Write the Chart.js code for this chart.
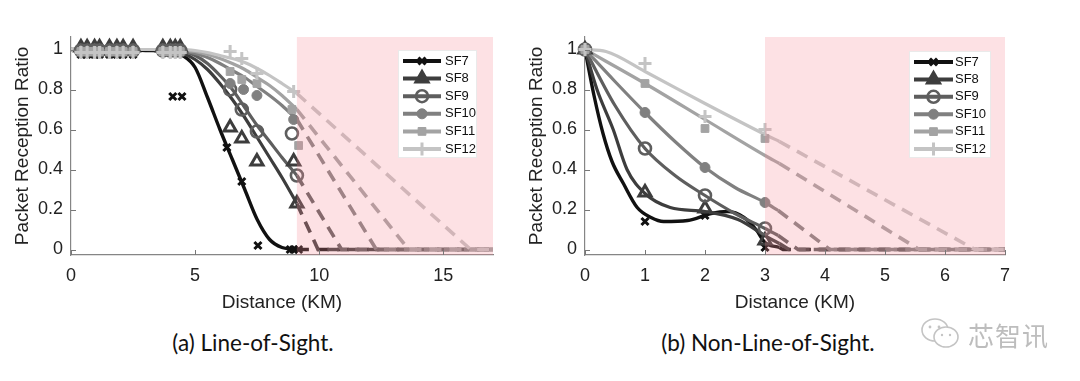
<!DOCTYPE html>
<html><head><meta charset="utf-8">
<script src="https://cdn.jsdelivr.net/npm/chart.js@4/dist/chart.umd.min.js"></script>
<style>
html,body{margin:0;padding:0;background:#fff;}
body{width:1080px;height:381px;position:relative;overflow:hidden;}
#c1{position:absolute;left:0;top:0;}
#c2{position:absolute;left:515px;top:0;}
.cap{position:absolute;top:329px;font-family:Lato,"Open Sans",sans-serif;font-size:22.5px;color:#111;white-space:nowrap;transform:translateX(-50%);}
#wm{position:absolute;left:920px;top:316px;height:36px;display:flex;align-items:center;}
#wm span{font-family:"Noto Sans CJK SC",sans-serif;font-size:26px;color:#bdbdbd;margin-left:6px;letter-spacing:1px;}
</style></head>
<body>
<canvas id="c1" width="520" height="320"></canvas>
<canvas id="c2" width="520" height="320"></canvas>
<div class="cap" style="left:253px">(a) Line-of-Sight.</div>
<div class="cap" style="left:768px">(b) Non-Line-of-Sight.</div>
<div id="wm"><svg width="42" height="36" viewBox="0 0 42 36"><ellipse cx="15" cy="14" rx="13" ry="11" fill="none" stroke="#c4c4c4" stroke-width="1.6"/><ellipse cx="26" cy="21" rx="12" ry="10" fill="#fff" stroke="#c4c4c4" stroke-width="1.6"/><circle cx="10" cy="11" r="1.4" fill="#c4c4c4"/><circle cx="19" cy="11" r="1.4" fill="#c4c4c4"/><circle cx="22" cy="19" r="1.2" fill="#c4c4c4"/><circle cx="30" cy="19" r="1.2" fill="#c4c4c4"/></svg><span>芯智讯</span></div>
<script>
// ---------- data ----------
const seriesNames = ['SF7','SF8','SF9','SF10','SF11','SF12'];
const yTickValues = [0,0.2,0.4,0.6,0.8,1];
const losXTickValues = [0,5,10,15];
const nlosXTickValues = [0,1,2,3,4,5,6,7];
const losShadeRange = [9.1, 17];
const nlosShadeRange = [3, 7];

// LOS fitted curves (solid)
const losCurveX   = [0,1,2,3,4,4.5,5,5.5,6,6.5,7,7.5,8,8.5,9.1];
const losCurveSF7  = [1,1,1,0.995,0.99,0.97,0.91,0.76,0.6,0.45,0.3,0.15,0.05,0.01,0];
const losCurveSF8  = [1,1,1,1,0.995,0.98,0.95,0.9,0.83,0.75,0.66,0.56,0.46,0.36,0.23];
const losCurveSF9  = [1,1,1,1,0.997,0.99,0.97,0.93,0.87,0.8,0.71,0.62,0.54,0.46,0.37];
const losCurveSF10 = [1,1,1,1,1,0.995,0.98,0.96,0.93,0.895,0.86,0.815,0.77,0.72,0.65];
const losCurveSF11 = [1,1,1,1,1,0.997,0.99,0.975,0.955,0.93,0.9,0.86,0.82,0.77,0.70];
const losCurveSF12 = [1,1,1,1,1,1,0.995,0.985,0.97,0.955,0.935,0.905,0.87,0.83,0.78];

// LOS extrapolation (dashed)
const losDashSF7X  = [9.1,17],       losDashSF7Y  = [0,0];
const losDashSF8X  = [9.1,9.95,17],  losDashSF8Y  = [0.23,0,0];
const losDashSF9X  = [9.1,10.9,17],  losDashSF9Y  = [0.37,0,0];
const losDashSF10X = [9.1,12.3,17],  losDashSF10Y = [0.65,0,0];
const losDashSF11X = [9.1,13.6,17],  losDashSF11Y = [0.70,0,0];
const losDashSF12X = [9.1,16.1,17],  losDashSF12Y = [0.78,0,0];

// LOS measurements (markers)
const losBandX = [0.4,0.65,0.95,1.15,1.55,1.85,2.1,2.5,3.7,4.0,4.2,4.4];
const losMarkSF7X  = [0.4,0.65,0.95,1.15,1.55,1.85,2.1,2.5,4.1,4.47,6.28,6.88,7.53,8.83,8.97,9.17];
const losMarkSF7Y  = [0.975,0.975,0.975,0.975,0.975,0.975,0.975,0.975,0.765,0.765,0.51,0.34,0.02,0,0,0];
const losMarkSF8X  = losBandX.concat([6.41,6.88,7.49,8.97,9.1]);
const losMarkSF8Y  = [1.01,1.01,1.01,1.01,1.01,1.01,1.01,1.01,1.01,1.01,1.01,1.01,0.61,0.555,0.44,0.44,0.23];
const losMarkSF9X  = losBandX.concat([6.41,6.88,7.49,8.9,9.1]);
const losMarkSF9Y  = [0.995,0.995,0.995,0.995,0.995,0.995,0.995,0.995,0.995,0.995,0.995,0.995,0.80,0.70,0.59,0.58,0.37];
const losMarkSF10X = losBandX.concat([6.41,6.95,7.49,8.97]);
const losMarkSF10Y = [0.99,0.99,0.99,0.99,0.99,0.99,0.99,0.99,0.99,0.99,0.99,0.99,0.83,0.80,0.77,0.65];
const losMarkSF11X = losBandX.concat([6.41,6.88,7.49,8.9,9.17]);
const losMarkSF11Y = [0.99,0.99,0.99,0.99,0.99,0.99,0.99,0.99,0.99,0.99,0.99,0.99,0.89,0.85,0.83,0.70,0.52];
const losMarkSF12X = losBandX.concat([6.41,6.88,7.49,8.97]);
const losMarkSF12Y = [0.985,0.985,0.985,0.985,0.985,0.985,0.985,0.985,0.985,0.985,0.985,0.985,0.99,0.955,0.88,0.79];

// NLOS fitted curves (solid)
const nlosCurveSF7X  = [0,0.15,0.3,0.45,0.64,0.87,1.1,1.31,1.71,2.1,2.38,2.65,2.85,3.0,3.24];
const nlosCurveSF7Y  = [1,0.77,0.58,0.44,0.33,0.21,0.16,0.14,0.145,0.18,0.19,0.16,0.1,0.035,0.01];
const nlosCurveSF8X  = [0,0.2,0.47,0.7,1.0,1.42,2.0,2.55,3.05,3.24];
const nlosCurveSF8Y  = [1,0.8,0.6,0.4,0.28,0.21,0.19,0.15,0.06,0.03];
const nlosCurveSF9X  = [0,0.5,1,1.5,2,2.5,3,3.22];
const nlosCurveSF9Y  = [1,0.72,0.505,0.37,0.27,0.18,0.105,0.07];
const nlosCurveSF10X = [0,0.5,1,1.5,2,2.5,3,3.22];
const nlosCurveSF10Y = [1,0.84,0.685,0.54,0.41,0.31,0.235,0.195];
const nlosCurveSF11X = [0,1,2,3,3.24];
const nlosCurveSF11Y = [1,0.83,0.65,0.47,0.43];
const nlosCurveSF12X = [0,0.35,1,2,3,3.24];
const nlosCurveSF12Y = [1,0.99,0.89,0.73,0.575,0.54];

// NLOS extrapolation (dashed)
const nlosDashSF7X  = [3.24,3.3,7],  nlosDashSF7Y  = [0.01,0,0];
const nlosDashSF8X  = [3.24,3.4,7],  nlosDashSF8Y  = [0.03,0,0];
const nlosDashSF9X  = [3.22,3.55,7], nlosDashSF9Y  = [0.07,0,0];
const nlosDashSF10X = [3.22,4.08,7], nlosDashSF10Y = [0.195,0,0];
const nlosDashSF11X = [3.24,5.57,7], nlosDashSF11Y = [0.43,0,0];
const nlosDashSF12X = [3.24,6.5,7],  nlosDashSF12Y = [0.54,0,0];

// NLOS measurements (markers)
const nlosMarkX = [0,1,2,3];
const nlosMarkSF7  = [1,0.14,0.17,0.01];
const nlosMarkSF8  = [1,0.285,0.205,0.045];
const nlosMarkSF9  = [1,0.505,0.27,0.105];
const nlosMarkSF10 = [1,0.685,0.41,0.235];
const nlosMarkSF11 = [1,0.83,0.605,0.555];
const nlosMarkSF12 = [1,0.93,0.665,0.60];

// ---------- styles ----------
const lineColors  = ['#111111','#3d3d3d','#5e5e5e','#808080','#a3a3a3','#c4c4c4'];
const pointStyles = ['crossRot','triangle','circle','circle','rect','cross'];
const pointFilled = [false,false,false,true,true,false];
const pointRadii  = [5,7,6,5,5.5,6.5];
const pointBorder = [3,3,2.6,1,1,3];
const FONT = '"Liberation Sans", Arial, sans-serif';

const zip = (xs, ys) => xs.map((x, i) => ({x, y: ys[i]}));

function buildDatasets(curves, dashes, marks) {
  const ds = [];
  seriesNames.forEach((n, i) => {
    ds.push({label: n + ' extrap', data: zip(dashes[i][0], dashes[i][1]), borderColor: lineColors[i],
      borderWidth: 3.6, borderDash: [12, 8], pointRadius: 0, tension: 0, fill: false, order: 1000 - i});
  });
  seriesNames.forEach((n, i) => {
    ds.push({label: n + ' fit', data: zip(curves[i][0], curves[i][1]), borderColor: lineColors[i],
      borderWidth: i === 0 ? 3.4 : 3.2, pointRadius: 0, cubicInterpolationMode: 'monotone', fill: false, order: 900 - i});
  });
  seriesNames.forEach((n, i) => {
    ds.push({label: n, data: zip(marks[i][0], marks[i][1]), showLine: false, clip: false,
      pointStyle: pointStyles[i], pointRadius: pointRadii[i], pointBorderWidth: pointBorder[i],
      pointBorderColor: lineColors[i], pointBackgroundColor: pointFilled[i] ? lineColors[i] : 'rgba(0,0,0,0)',
      borderColor: lineColors[i], order: 800 - i});
  });
  return ds;
}

const shadePlugin = {
  id: 'shade',
  afterDatasetsDraw(chart, args, opts) {
    const {ctx, chartArea: a, scales: {x}} = chart;
    const x0 = x.getPixelForValue(opts.range[0]), x1 = x.getPixelForValue(opts.range[1]);
    ctx.save();
    ctx.fillStyle = 'rgba(246,140,152,0.26)';
    ctx.fillRect(x0, a.top, x1 - x0, a.bottom - a.top);
    ctx.restore();
  }
};

const tickPlugin = {
  id: 'inTicks',
  afterDatasetsDraw(chart) {
    const {ctx, chartArea: a, scales: {x, y}} = chart;
    ctx.save();
    ctx.strokeStyle = '#777'; ctx.lineWidth = 1;
    x.ticks.forEach(t => { const p = Math.round(x.getPixelForValue(t.value)) + 0.5;
      ctx.beginPath(); ctx.moveTo(p, a.bottom); ctx.lineTo(p, a.bottom - 5); ctx.stroke(); });
    y.ticks.forEach(t => { const p = Math.round(y.getPixelForValue(t.value)) + 0.5;
      ctx.beginPath(); ctx.moveTo(a.left, p); ctx.lineTo(a.left + 5, p); ctx.stroke(); });
    ctx.restore();
  }
};

const legendPlugin = {
  id: 'boxLegend',
  afterDraw(chart, args, o) {
    const ctx = chart.ctx;
    ctx.save();
    ctx.fillStyle = '#fff'; ctx.fillRect(o.x, o.y, o.w, o.h);
    ctx.strokeStyle = '#eaeaea'; ctx.lineWidth = 1; ctx.strokeRect(o.x + 0.5, o.y + 0.5, o.w - 1, o.h - 1);
    seriesNames.forEach((n, i) => {
      const cy = o.row0 + i * o.step;
      ctx.strokeStyle = lineColors[i]; ctx.lineWidth = 4;
      ctx.beginPath(); ctx.moveTo(o.l0, cy); ctx.lineTo(o.l1, cy); ctx.stroke();
      ctx.fillStyle = (pointFilled[i] || i === 1) ? lineColors[i] : 'rgba(0,0,0,0)';
      ctx.lineWidth = pointBorder[i];
      Chart.helpers.drawPoint(ctx, {pointStyle: pointStyles[i], radius: pointRadii[i], borderWidth: pointBorder[i], rotation: 0}, (o.l0 + o.l1) / 2, cy);
      ctx.fillStyle = '#111'; ctx.font = '13px ' + FONT; ctx.textBaseline = 'middle'; ctx.textAlign = 'left';
      ctx.fillText(n, o.tx, cy);
    });
    ctx.restore();
  }
};

function makeChart(id, xMax, xTicks, datasets, shadeRange, yAxisWidth, padRight, yTitlePad, legend) {
  return new Chart(document.getElementById(id), {
    type: 'line',
    data: {datasets},
    plugins: [shadePlugin, tickPlugin, legendPlugin],
    options: {
      responsive: false, animation: false, events: [],
      layout: {padding: {top: 37, right: padRight, left: 0, bottom: 0}},
      plugins: {legend: {display: false}, tooltip: {enabled: false},
        shade: {range: shadeRange}, boxLegend: legend},
      scales: {
        x: {type: 'linear', min: 0, max: xMax,
          afterFit: s => { s.height = 65; },
          afterBuildTicks: s => { s.ticks = xTicks.map(v => ({value: v})); },
          grid: {drawOnChartArea: false, drawTicks: false},
          border: {display: true, color: '#858585', width: 1.2},
          ticks: {padding: 10, color: '#222', font: {family: FONT, size: 18}, maxRotation: 0},
          title: {display: true, text: 'Distance (KM)', color: '#222', font: {family: FONT, size: 19}, padding: {top: 0, bottom: 5.6}}
        },
        y: {type: 'linear', min: -0.0275, max: 1.0625,
          afterFit: s => { s.width = yAxisWidth; },
          afterBuildTicks: s => { s.ticks = yTickValues.map(v => ({value: v})); },
          grid: {drawOnChartArea: false, drawTicks: false},
          border: {display: true, color: '#858585', width: 1.2},
          ticks: {padding: 8, color: '#222', font: {family: FONT, size: 18}, callback: v => String(+v.toFixed(1))},
          title: {display: true, text: 'Packet Reception Ratio', color: '#222', font: {family: FONT, size: 19}, padding: {top: yTitlePad, bottom: 0}}
        }
      }
    }
  });
}

const losDatasets = buildDatasets(
  [[losCurveX, losCurveSF7], [losCurveX, losCurveSF8], [losCurveX, losCurveSF9], [losCurveX, losCurveSF10], [losCurveX, losCurveSF11], [losCurveX, losCurveSF12]],
  [[losDashSF7X, losDashSF7Y], [losDashSF8X, losDashSF8Y], [losDashSF9X, losDashSF9Y], [losDashSF10X, losDashSF10Y], [losDashSF11X, losDashSF11Y], [losDashSF12X, losDashSF12Y]],
  [[losMarkSF7X, losMarkSF7Y], [losMarkSF8X, losMarkSF8Y], [losMarkSF9X, losMarkSF9Y], [losMarkSF10X, losMarkSF10Y], [losMarkSF11X, losMarkSF11Y], [losMarkSF12X, losMarkSF12Y]]
);
const nlosDatasets = buildDatasets(
  [[nlosCurveSF7X, nlosCurveSF7Y], [nlosCurveSF8X, nlosCurveSF8Y], [nlosCurveSF9X, nlosCurveSF9Y], [nlosCurveSF10X, nlosCurveSF10Y], [nlosCurveSF11X, nlosCurveSF11Y], [nlosCurveSF12X, nlosCurveSF12Y]],
  [[nlosDashSF7X, nlosDashSF7Y], [nlosDashSF8X, nlosDashSF8Y], [nlosDashSF9X, nlosDashSF9Y], [nlosDashSF10X, nlosDashSF10Y], [nlosDashSF11X, nlosDashSF11Y], [nlosDashSF12X, nlosDashSF12Y]],
  [[nlosMarkX, nlosMarkSF7], [nlosMarkX, nlosMarkSF8], [nlosMarkX, nlosMarkSF9], [nlosMarkX, nlosMarkSF10], [nlosMarkX, nlosMarkSF11], [nlosMarkX, nlosMarkSF12]]
);

makeChart('c1', 17, losXTickValues, losDatasets, losShadeRange, 71, 27, 11.6,
  {x: 398, y: 50, w: 79, h: 108, l0: 403, l1: 441, tx: 445, row0: 61, step: 17.6});
makeChart('c2', 7, nlosXTickValues, nlosDatasets, nlosShadeRange, 70, 30, 10.6,
  {x: 394, y: 51, w: 82, h: 107, l0: 399, l1: 438, tx: 440, row0: 62, step: 17.4});
</script>
</body></html>
